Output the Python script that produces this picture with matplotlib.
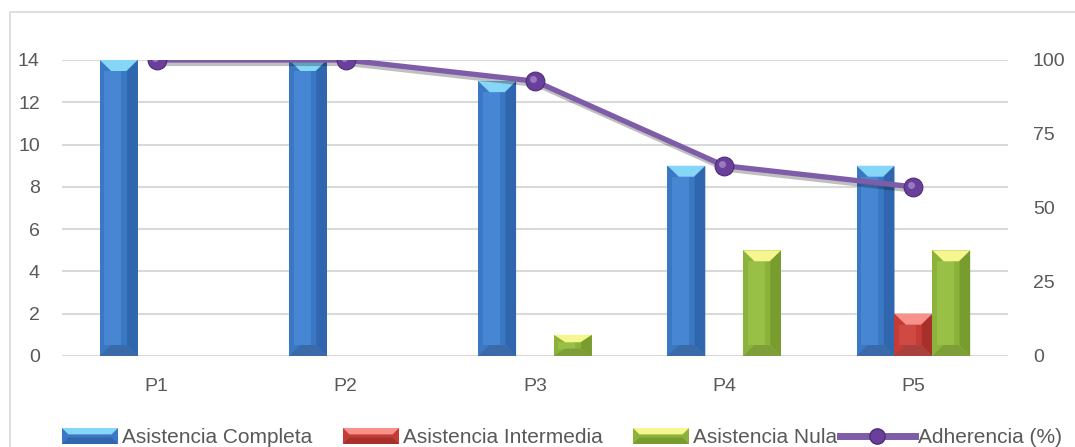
import numpy as np
import matplotlib.pyplot as plt
import matplotlib.patheffects as pe
from matplotlib.patches import Polygon, Rectangle
from matplotlib.transforms import ScaledTranslation

categories = ["P1", "P2", "P3", "P4", "P5"]
completa = [14, 14, 13, 9, 9]
intermedia = [0, 0, 0, 0, 2]
nula = [0, 0, 1, 5, 5]
adherencia = [100, 100, 92.86, 64.29, 57.14]

series_names = ["Asistencia Completa", "Asistencia Intermedia", "Asistencia Nula"]
line_name = "Adherencia (%)"

# face, light stripe, dark side, top cap, bottom
blue = ["#3A78C4", "#4686D2", "#2F66AD", "#86D6F8", "#3A6AA8"]
red = ["#C43C35", "#CF4A43", "#A8302B", "#F7918A", "#A8403B"]
green = ["#8BB23A", "#98C046", "#789C2E", "#F6F690", "#7E9E3A"]
purple = "#7E5CA8"
tick_gray = "#595959"
grid_gray = "#D9D9D9"
font = ["Liberation Sans", "DejaVu Sans"]


def bevelBar(ax, x, h, w, cols, dy_max):
    if h <= 0:
        return
    x0, x1 = x - w/2, x + w/2
    dx = w * 0.3
    dy = min(dy_max, h * 0.35)
    ax.add_patch(Rectangle((x0, 0), w, h, facecolor=cols[0], edgecolor="none", zorder=2))
    # lighter band and darker right edge on the face
    ax.add_patch(Rectangle((x0 + w*0.12, dy), w*0.45, h - 2*dy, facecolor=cols[1],
                           edgecolor="none", zorder=2))
    ax.add_patch(Polygon([[x1, 0], [x1 - w*0.28, dy], [x1 - w*0.28, h - dy], [x1, h]],
                         facecolor=cols[2], edgecolor="none", zorder=2))
    ax.add_patch(Polygon([[x0, 0], [x1, 0], [x1 - dx, dy], [x0 + dx, dy]],
                         facecolor=cols[4], edgecolor="none", zorder=2))
    ax.add_patch(Polygon([[x0, h], [x1, h], [x1 - dx, h - dy], [x0 + dx, h - dy]],
                         facecolor=cols[3], edgecolor="none", zorder=2))


def legendPatch(fig, x, y, w, h, cols):
    d = h * 0.4
    dxw = d * 447 / 1075
    fig.patches.append(Rectangle((x, y), w, h, facecolor=cols[0], edgecolor="none",
                                 transform=fig.transFigure, figure=fig))
    fig.patches.append(Polygon([[x, y + h], [x + w, y + h], [x + w - dxw, y + h - d],
                                [x + dxw, y + h - d]], facecolor=cols[3], edgecolor="none",
                               transform=fig.transFigure, figure=fig))
    fig.patches.append(Polygon([[x, y], [x + w, y], [x + w - dxw, y + d], [x + dxw, y + d]],
                               facecolor=cols[2], edgecolor="none",
                               transform=fig.transFigure, figure=fig))


def main():
    fig = plt.figure(figsize=(10.75, 4.47), dpi=100)
    W, H = 1075, 447

    # outer chart frame
    fig.patches.append(Rectangle((10/W, -0.1), 1.2, 1 - 12/H + 0.1, facecolor="none",
                                 edgecolor=grid_gray, linewidth=1.2,
                                 transform=fig.transFigure, figure=fig))

    ax = fig.add_axes([62/W, 1 - 356/H, 946/W, 296/H])
    ax2 = ax.twinx()

    x = np.arange(len(categories))
    w = 0.2
    ax.set_xlim(-0.5, len(categories) - 0.5)
    ax.set_ylim(0, 14)
    dy_max = 11 / 296 * 14

    for i in x:
        bevelBar(ax, i - w, completa[i], w, blue, dy_max)
        bevelBar(ax, i, intermedia[i], w, red, dy_max)
        bevelBar(ax, i + w, nula[i], w, green, dy_max)

    ax.set_yticks(np.arange(0, 15, 2))
    ax.yaxis.grid(True, color=grid_gray, linewidth=1.5, zorder=0)
    ax.set_axisbelow(True)
    ax.set_xticks(x)
    ax.set_xticklabels(categories)
    ax.tick_params(length=0, labelsize=14, labelcolor=tick_gray)
    ax.tick_params(axis="x", pad=16)
    ax.tick_params(axis="y", pad=16)
    for s in ax.spines.values():
        s.set_visible(False)

    ax2.set_ylim(0, 100)
    ax2.set_yticks([0, 25, 50, 75, 100])
    ax2.tick_params(length=0, labelsize=14, labelcolor=tick_gray, pad=18)
    for s in ax2.spines.values():
        s.set_visible(False)
    for lab in ax.get_xticklabels() + ax.get_yticklabels() + ax2.get_yticklabels():
        lab.set_family(font)

    ax2.plot(x, adherencia, color=purple, linewidth=3.8, solid_capstyle="round", zorder=3,
             path_effects=[pe.SimpleLineShadow(offset=(1.5, -2.5), alpha=0.25), pe.Normal()])
    ax2.plot(x, adherencia, linestyle="none", marker="o", markersize=13.5,
             markerfacecolor="#6A3F9C", markeredgecolor="#4E2C78", markeredgewidth=0.8,
             zorder=4)
    hl = ax2.transData + ScaledTranslation(-2/100, 2/100, fig.dpi_scale_trans)
    ax2.plot(x, adherencia, linestyle="none", marker="o", markersize=5,
             markerfacecolor="#A48AC8", markeredgecolor="none", alpha=0.8,
             transform=hl, zorder=5)

    # legend along the bottom edge
    base = 1 - 443/H
    ly = 1 - 444/H
    lh = 16/H
    patch_x = [62, 343, 633]
    cols = [blue, red, green]
    for px, c, name in zip(patch_x, cols, series_names):
        legendPatch(fig, px/W, ly, 56/W, lh, c)
        fig.text((px + 60)/W, base, name, fontsize=15, color=tick_gray,
                 family=font, va="baseline", ha="left")
    fig.lines.append(plt.Line2D([840/W, 915/W], [ly + lh/2, ly + lh/2], color=purple,
                                linewidth=5, transform=fig.transFigure, figure=fig))
    fig.lines.append(plt.Line2D([877/W], [ly + lh/2], marker="o", markersize=11,
                                markerfacecolor="#6A3F9C", markeredgecolor="#4E2C78",
                                transform=fig.transFigure, figure=fig))
    fig.text(918/W, base, line_name, fontsize=15, color=tick_gray,
             family=font, va="baseline", ha="left")

    fig.savefig("out.png", dpi=100)


main()
